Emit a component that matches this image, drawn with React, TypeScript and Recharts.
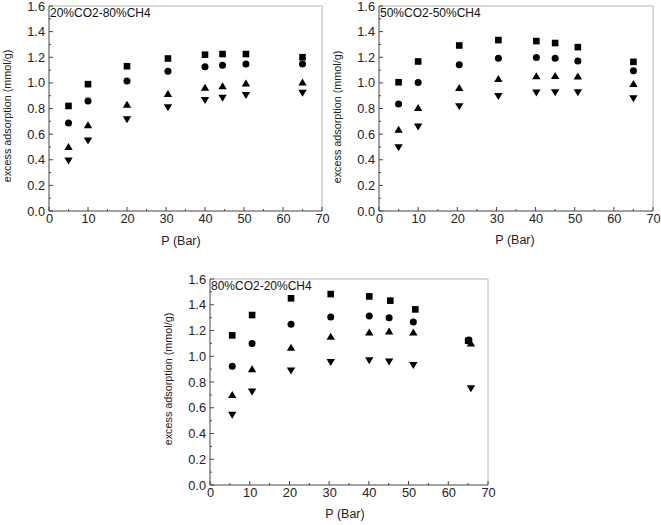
import React from 'react';
import { ScatterChart, Scatter, XAxis, YAxis, ReferenceLine } from 'recharts';

// axis ticks (major + minor)
const X_TICKS = [0, 5, 10, 15, 20, 25, 30, 35, 40, 45, 50, 55, 60, 65, 70];
const Y_TICKS = [0, 0.1, 0.2, 0.3, 0.4, 0.5, 0.6, 0.7, 0.8, 0.9, 1.0, 1.1, 1.2, 1.3, 1.4, 1.5, 1.6];

// 20%CO2-80%CH4
const P_20 = [5, 10, 20, 30.5, 40, 44.5, 50.5, 65];
const SQ_20 = [0.82, 0.99, 1.13, 1.19, 1.22, 1.225, 1.225, 1.2];
const CI_20 = [0.687, 0.858, 1.015, 1.09, 1.126, 1.137, 1.147, 1.147];
const UP_20 = [0.5, 0.67, 0.83, 0.913, 0.962, 0.975, 0.996, 1.004];
const DN_20 = [0.393, 0.549, 0.715, 0.809, 0.866, 0.884, 0.905, 0.923];

// 50%CO2-50%CH4
const P_50 = [5, 10, 20.5, 30.5, 40.2, 45, 50.8, 65];
const SQ_50 = [1.005, 1.167, 1.292, 1.334, 1.326, 1.311, 1.279, 1.164];
const CI_50 = [0.836, 1.003, 1.141, 1.193, 1.198, 1.193, 1.17, 1.094];
const UP_50 = [0.635, 0.804, 0.961, 1.031, 1.052, 1.055, 1.05, 0.992];
const DN_50 = [0.496, 0.658, 0.817, 0.896, 0.924, 0.927, 0.927, 0.88];

// 80%CO2-20%CH4
const P_80_SQ = [5.6, 10.6, 20.4, 30.4, 40.1, 45.4, 51.7, 65];
const P_80 = [5.6, 10.6, 20.4, 30.4, 40.1, 45.1, 51.2, 65.2];
const P_80_TRI = [5.6, 10.6, 20.4, 30.4, 40.1, 45.1, 51.2, 65.7];
const SQ_80 = [1.162, 1.32, 1.45, 1.483, 1.465, 1.432, 1.364, 1.12];
const CI_80 = [0.922, 1.1, 1.248, 1.305, 1.313, 1.3, 1.266, 1.126];
const UP_80 = [0.7, 0.9, 1.067, 1.152, 1.186, 1.193, 1.186, 1.1];
const DN_80 = [0.544, 0.725, 0.888, 0.955, 0.968, 0.958, 0.932, 0.751];

const FONT = '"Liberation Sans", Arial, sans-serif';
const AXIS = '#444';
const FRAME = '#b4b4b4';

const toPts = (xs: number[], ys: number[]) => xs.map((x, i) => ({ x, y: ys[i] }));

const Square = (p: any) => <rect x={p.cx - 3.3} y={p.cy - 3.3} width={6.6} height={6.6} fill="#000" />;
const Dot = (p: any) => <circle cx={p.cx} cy={p.cy} r={3.5} fill="#000" />;
const Up = (p: any) => (
  <polygon points={`${p.cx},${p.cy - 3.9} ${p.cx - 4.2},${p.cy + 3.1} ${p.cx + 4.2},${p.cy + 3.1}`} fill="#000" />
);
const Down = (p: any) => (
  <polygon points={`${p.cx},${p.cy + 3.9} ${p.cx - 4.2},${p.cy - 3.1} ${p.cx + 4.2},${p.cy - 3.1}`} fill="#000" />
);

const YTick = (props: any) => {
  const { x, y, payload } = props;
  const v = payload.value;
  const major = Math.abs(v * 5 - Math.round(v * 5)) < 1e-6;
  return (
    <g>
      <line x1={x} x2={x + (major ? 4 : 2)} y1={y} y2={y} stroke={AXIS} />
      {major && (
        <text x={x - 4} y={y} dy="0.36em" textAnchor="end" fontSize={12.8} fill="#222" fontFamily={FONT}>
          {v.toFixed(1)}
        </text>
      )}
    </g>
  );
};

const XTick = (props: any) => {
  const { x, y, payload } = props;
  const v = payload.value;
  const major = v % 10 === 0;
  return (
    <g>
      <line x1={x} x2={x} y1={y} y2={y - (major ? 4 : 2)} stroke={AXIS} />
      {major && (
        <text x={x + 0.5} y={y + 12} textAnchor="middle" fontSize={12.8} fill="#222" fontFamily={FONT}>
          {v}
        </text>
      )}
    </g>
  );
};

interface PanelProps {
  left: number;
  top: number;
  width: number;
  height: number;
  xAxisHeight: number;
  title: string;
  sq: { x: number; y: number }[];
  ci: { x: number; y: number }[];
  up: { x: number; y: number }[];
  dn: { x: number; y: number }[];
  yLabelY: number;
  xLabelX: number;
  xLabelY: number;
}

const Panel: React.FC<PanelProps> = ({ left, top, width, height, xAxisHeight, title, sq, ci, up, dn, yLabelY, xLabelX, xLabelY }) => (
  <div style={{ position: 'absolute', left, top, width, height }}>
    <ScatterChart width={width} height={height} margin={{ top: 6, right: 8, bottom: 0, left: 0 }}>
      <XAxis
        type="number"
        dataKey="x"
        domain={[0, 70]}
        ticks={X_TICKS}
        interval={0}
        height={xAxisHeight}
        tickSize={0}
        tickMargin={0}
        tickLine={false}
        axisLine={{ stroke: AXIS }}
        tick={<XTick />}
      />
      <YAxis
        type="number"
        dataKey="y"
        domain={[0, 1.6]}
        ticks={Y_TICKS}
        interval={0}
        width={49}
        tickSize={0}
        tickMargin={0}
        tickLine={false}
        axisLine={{ stroke: AXIS }}
        tick={<YTick />}
      />
      <ReferenceLine y={1.6} stroke={FRAME} />
      <ReferenceLine x={70} stroke={FRAME} />
      <Scatter data={sq} shape={Square} isAnimationActive={false} />
      <Scatter data={ci} shape={Dot} isAnimationActive={false} />
      <Scatter data={up} shape={Up} isAnimationActive={false} />
      <Scatter data={dn} shape={Down} isAnimationActive={false} />
    </ScatterChart>
    <svg width={width} height={height} style={{ position: 'absolute', left: 0, top: 0, pointerEvents: 'none' }}>
      <text x={50} y={17} fontSize={12} fill="#111" fontFamily={FONT}>{title}</text>
      <text
        x={0}
        y={0}
        transform={`translate(11, ${yLabelY}) rotate(-90)`}
        textAnchor="middle"
        fontSize={10.8}
        fill="#222"
        fontFamily={FONT}
      >
        excess adsorption (mmol/g)
      </text>
      <text x={xLabelX} y={xLabelY} textAnchor="middle" fontSize={12.5} fill="#222" fontFamily={FONT}>
        P (Bar)
      </text>
    </svg>
  </div>
);

export default function App() {
  return (
    <div style={{ position: 'absolute', left: 0, top: 0, width: 661, height: 525, background: '#fff' }}>
      <Panel
        left={0}
        top={0}
        width={330}
        height={250}
        xAxisHeight={39}
        title="20%CO2-80%CH4"
        sq={toPts(P_20, SQ_20)}
        ci={toPts(P_20, CI_20)}
        up={toPts(P_20, UP_20)}
        dn={toPts(P_20, DN_20)}
        yLabelY={116}
        xLabelX={181}
        xLabelY={245}
      />
      <Panel
        left={330}
        top={0}
        width={331}
        height={250}
        xAxisHeight={39}
        title="50%CO2-50%CH4"
        sq={toPts(P_50, SQ_50)}
        ci={toPts(P_50, CI_50)}
        up={toPts(P_50, UP_50)}
        dn={toPts(P_50, DN_50)}
        yLabelY={117}
        xLabelX={185}
        xLabelY={244}
      />
      <Panel
        left={161}
        top={273}
        width={335}
        height={252}
        xAxisHeight={40}
        title="80%CO2-20%CH4"
        sq={toPts(P_80_SQ, SQ_80)}
        ci={toPts(P_80, CI_80)}
        up={toPts(P_80_TRI, UP_80)}
        dn={toPts(P_80_TRI, DN_80)}
        yLabelY={106}
        xLabelX={184}
        xLabelY={245}
      />
    </div>
  );
}
